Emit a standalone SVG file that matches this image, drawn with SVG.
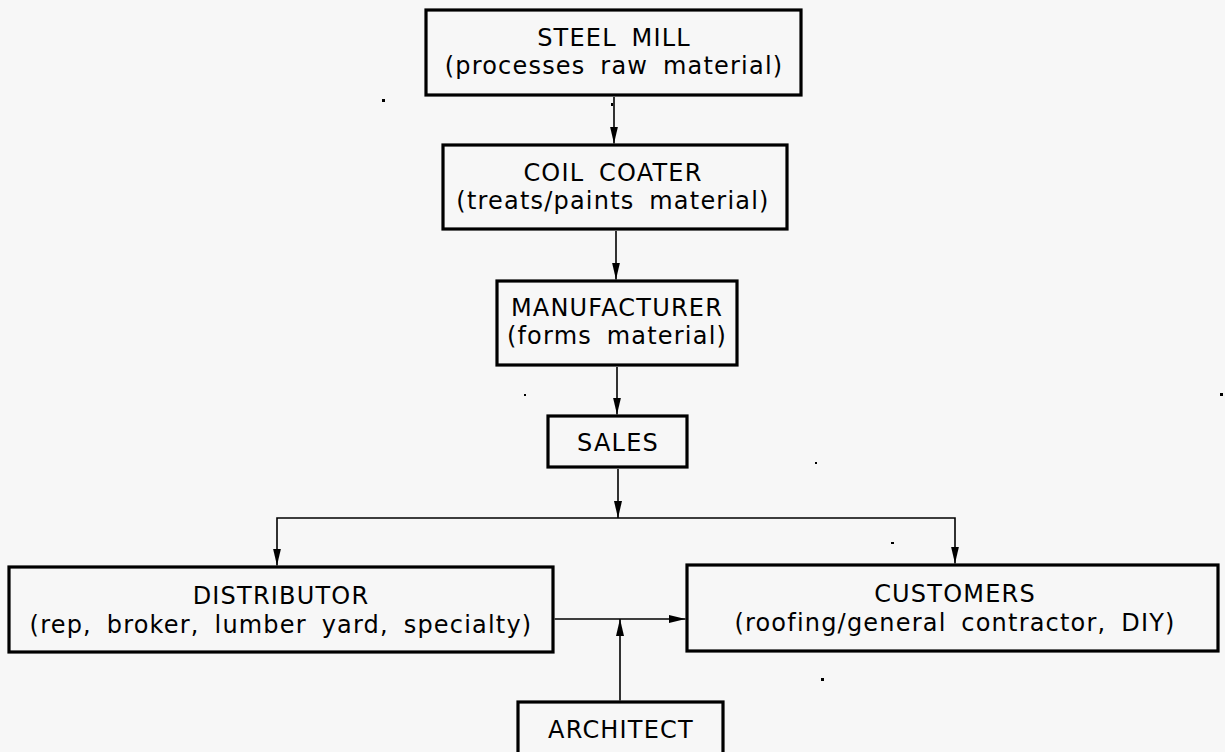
<svg xmlns="http://www.w3.org/2000/svg" width="1225" height="752" viewBox="0 0 1225 752">
  <defs>
    <marker id="arrow" viewBox="0 0 17 8" refX="17" refY="4" markerWidth="17" markerHeight="8" markerUnits="userSpaceOnUse" orient="auto">
      <path d="M0,0 L17,4 L0,8 Z" fill="#000"/>
    </marker>
    <style>
      .box { fill: none; stroke: #000; stroke-width: 3.2; }
      .lbl { font-family: "DejaVu Sans", "Liberation Sans", sans-serif; font-size: 24px; fill: #000; text-anchor: middle; letter-spacing: 1.2px; word-spacing: 6px; }
      .wire { fill: none; stroke: #000; stroke-width: 1.6; }
      .dot { fill: #000; }
    </style>
  </defs>
  <rect width="1225" height="752" fill="#f7f7f7"/>

  <g id="steel-mill">
    <rect class="box" x="426" y="10" width="375" height="85"/>
    <text class="lbl" x="614" y="46">STEEL MILL</text>
    <text class="lbl" x="614" y="74">(processes raw material)</text>
  </g>

  <g id="coil-coater">
    <rect class="box" x="443" y="145" width="344" height="84"/>
    <text class="lbl" x="613" y="181">COIL COATER</text>
    <text class="lbl" x="613" y="209">(treats/paints material)</text>
  </g>

  <g id="manufacturer">
    <rect class="box" x="497" y="281" width="240" height="84"/>
    <text class="lbl" x="617" y="316">MANUFACTURER</text>
    <text class="lbl" x="617" y="344">(forms material)</text>
  </g>

  <g id="sales">
    <rect class="box" x="548" y="416" width="139" height="51"/>
    <text class="lbl" x="618" y="451">SALES</text>
  </g>

  <g id="distributor">
    <rect class="box" x="9" y="567" width="544" height="85"/>
    <text class="lbl" x="281" y="604">DISTRIBUTOR</text>
    <text class="lbl" x="281" y="633">(rep, broker, lumber yard, specialty)</text>
  </g>

  <g id="customers">
    <rect class="box" x="687" y="565" width="531" height="86"/>
    <text class="lbl" x="955" y="602">CUSTOMERS</text>
    <text class="lbl" x="955" y="631">(roofing/general contractor, DIY)</text>
  </g>

  <g id="architect">
    <rect class="box" x="518" y="702" width="205" height="60"/>
    <text class="lbl" x="621" y="738">ARCHITECT</text>
  </g>

  <g id="connectors">
    <line class="wire" x1="614" y1="97" x2="614" y2="143.5" marker-end="url(#arrow)"/>
    <line class="wire" x1="616" y1="231" x2="616" y2="279.5" marker-end="url(#arrow)"/>
    <line class="wire" x1="617" y1="367" x2="617" y2="414.5" marker-end="url(#arrow)"/>
    <line class="wire" x1="618" y1="469" x2="618" y2="518" marker-end="url(#arrow)"/>
    <path class="wire" d="M618,518 H277 V565.5" marker-end="url(#arrow)"/>
    <path class="wire" d="M618,518 H955 V563.5" marker-end="url(#arrow)"/>
    <line class="wire" x1="554.6" y1="619" x2="685.5" y2="619" marker-end="url(#arrow)"/>
    <line class="wire" x1="620" y1="700.5" x2="620" y2="619" marker-end="url(#arrow)"/>
  </g>

  <g id="specks">
    <rect class="dot" x="382" y="99" width="3" height="3"/>
    <rect class="dot" x="611" y="103" width="2" height="3"/>
    <rect class="dot" x="815" y="462" width="2" height="2"/>
    <rect class="dot" x="891" y="542" width="3" height="2"/>
    <rect class="dot" x="1220" y="393" width="3" height="3"/>
    <rect class="dot" x="524" y="394" width="2" height="2"/>
    <rect class="dot" x="821" y="678" width="3" height="3"/>
  </g>
</svg>
